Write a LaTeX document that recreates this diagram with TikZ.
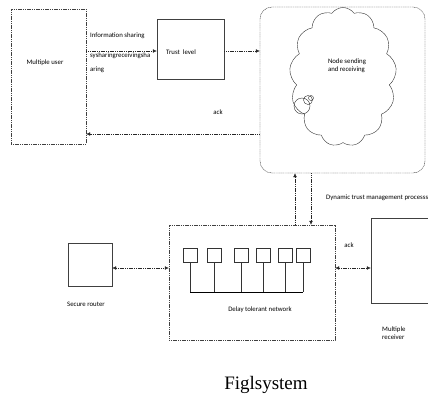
\documentclass[tikz,border=0pt]{standalone}
\usepackage{fontspec}
\setmainfont{Carlito}
\newfontfamily\capfont{Liberation Serif}
\usetikzlibrary{arrows.meta,shapes.symbols}
\begin{document}
\begin{tikzpicture}[x=1pt,y=-1pt,
    box/.style={draw=black!75,thin,inner sep=0pt},
    dotbox/.style={draw=black!75,dash pattern=on 1.2pt off 0.6pt,thin,inner sep=0pt},
    arr/.style={draw=black!85,dash pattern=on 1.2pt off 0.6pt,thin,-{Latex[length=4pt,width=3.6pt]}},
    darr/.style={draw=black!85,dash pattern=on 1.2pt off 0.6pt,thin,{Latex[length=4pt,width=3.6pt]}-{Latex[length=4pt,width=3.6pt]}},
    txt/.style={font=\fontsize{6.8}{8}\selectfont,inner sep=0pt,align=left},
    unit/.style={draw=black!80,thin,minimum width=14pt,minimum height=14pt,inner sep=0pt}]
  \useasboundingbox (0,0) rectangle (428,396);
  % upper part
  \node[dotbox,minimum width=75pt,minimum height=135pt] (user) at (48.5,76.5) {};
  \node[txt] (userlbl) at (45,63) {Multiple user};
  \node[box,minimum width=67pt,minimum height=60pt] (trust) at (190.5,49) {};
  \node[txt] (trustlbl) at (181,52) {Trust\ \ level};
  \node[dotbox,rounded corners=12pt,minimum width=165pt,minimum height=166pt] (outer) at (342.5,90) {};
  \node[cloud,draw=black!80,thin,cloud puffs=13,cloud puff arc=110,aspect=0.8,
        minimum width=107pt,minimum height=139pt] (cloud) at (343,77) {};
  \node[txt] (cloudlbl) at (347,66) {Node sending\\and receiving};
  \draw[black!80,thin] (302,106) circle (8) (308,100) circle (4.5) (311,98) circle (2.5);
  % links of the upper part
  \draw[arr] (user.east |- 0,51) -- (trust.west |- 0,51);
  \node[txt,anchor=west] (infolbl) at (90,36) {Information sharing};
  \node[txt,anchor=west] (garble) at (90,56) {sysharingreceivingsha};
  \node[txt,anchor=west] (garble2) at (90,70) {aring};
  \draw[arr] (trust.east |- 0,51) -- (outer.west |- 0,51);
  \draw[arr] (outer.west |- 0,134) -- (user.east |- 0,134);
  \node[txt] (acklbl) at (218,112) {ack};
  % lower part
  \node[dotbox,minimum width=166pt,minimum height=115pt] (dtn) at (252,282.5) {};
  \node[txt] (dtnlbl) at (260,310) {Delay tolerant network};
  \foreach \n/\x in {1/190,2/214,3/241,4/263,5/285,6/303}{
    \node[unit] (u\n) at (\x,255) {};
    \coordinate (b\n) at (\x,292);
    \draw[black!80,thin] (u\n.south) -- (b\n);
  }
  \draw[black,thick] (b1) -- (b6);
  \draw[arr] (dtn.north -| 295,0) -- (outer.south -| 295,0);
  \draw[arr] (outer.south -| 311,0) -- (dtn.north -| 311,0);
  \node[txt,anchor=west] (dynlbl) at (326,198) {Dynamic trust management processs};
  \node[box,minimum width=44pt,minimum height=43pt] (router) at (90,264.5) {};
  \node[txt] (routerlbl) at (86,304) {Secure router};
  \draw[darr] (router.east |- 0,268) -- (dtn.west |- 0,268);
  \node[box,minimum width=62pt,minimum height=85pt] (recv) at (402,260.5) {};
  \node[txt,anchor=west] (recvlbl) at (382,333) {Multiple\\receiver};
  \draw[darr] (dtn.east |- 0,268) -- (recv.west |- 0,268);
  \node[txt] (ack2lbl) at (349,245) {ack};
  \node[font=\capfont\fontsize{19}{22}\selectfont,inner sep=0pt] (caption) at (266,385) {Figlsystem};
\end{tikzpicture}
\end{document}
